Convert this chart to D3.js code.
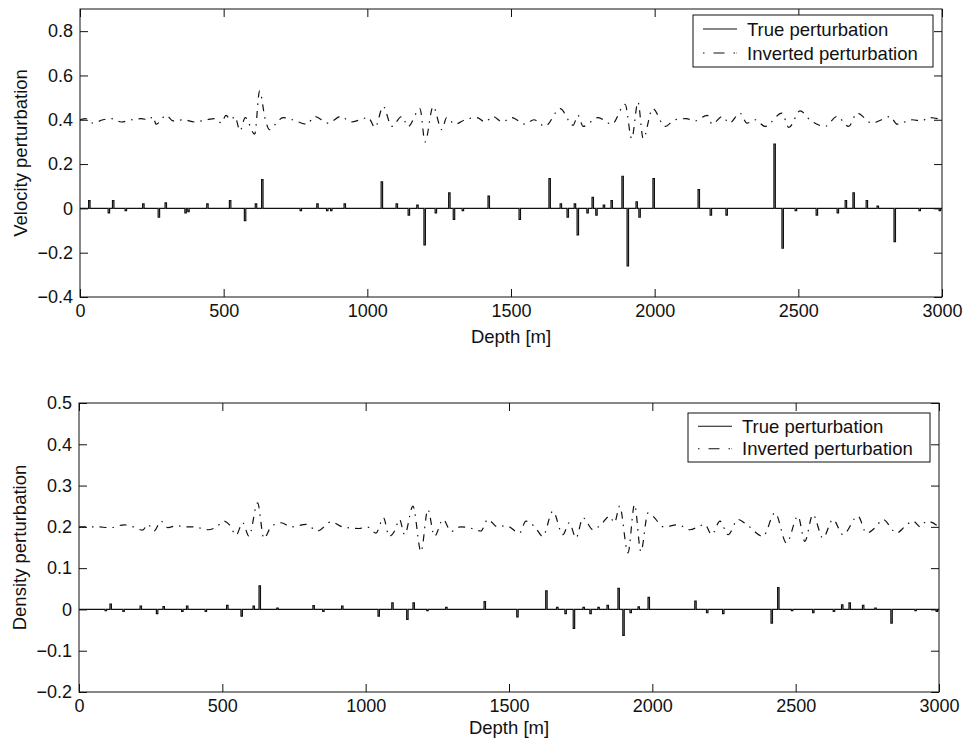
<!DOCTYPE html>
<html>
<head>
<meta charset="utf-8">
<script src="https://cdn.jsdelivr.net/npm/d3@7"></script>
<style>
  body { margin: 0; background: #fff; }
  svg { display: block; font-family: "Liberation Sans", Arial, Helvetica, sans-serif; }
</style>
</head>
<body>
<div id="chart"></div>
<script>
// x ticks shared by both panels
let depth_ticks = [0, 500, 1000, 1500, 2000, 2500, 3000]
let vel_ticks = [-0.4, -0.2, 0, 0.2, 0.4, 0.6, 0.8]
let den_ticks = [-0.2, -0.1, 0, 0.1, 0.2, 0.3, 0.4, 0.5]
let legend_labels = ["True perturbation", "Inverted perturbation"]

// true velocity perturbation: thin layers (top depth, value), zero elsewhere
let vel_layer_depth = [30, 98, 113, 157, 218, 272, 296, 365, 375, 441, 520, 572, 610, 632, 766, 824, 858, 872, 919,
    1048, 1100, 1142, 1172, 1197, 1236, 1283, 1299, 1330, 1420, 1528, 1632, 1671, 1695, 1720, 1730, 1764, 1782, 1795,
    1821, 1848, 1886, 1904, 1935, 1945, 1994, 2151, 2193, 2248, 2415, 2443, 2489, 2562, 2635, 2663, 2690, 2736, 2774,
    2833, 2920, 2990]
let vel_layer_value = [0.035, -0.02, 0.035, -0.01, 0.02, -0.04, 0.025, -0.02, -0.015, 0.02, 0.035, -0.055, 0.02, 0.13,
    -0.01, 0.02, -0.01, -0.01, 0.02, 0.12, 0.02, -0.03, 0.015, -0.165, -0.02, 0.07, -0.05, -0.01, 0.055, -0.05, 0.135,
    0.02, -0.04, 0.02, -0.12, -0.02, 0.05, -0.03, 0.015, 0.035, 0.145, -0.26, 0.03, -0.04, 0.135, 0.085, -0.03, -0.03,
    0.29, -0.18, -0.01, -0.03, -0.02, 0.035, 0.07, 0.035, 0.01, -0.15, -0.01, -0.01]

// inverted velocity perturbation (plotted shifted by 0.4)
let vel_inv_depth = [0, 20, 45, 80, 110, 144, 180, 213, 240, 254, 265, 300, 324, 360, 399, 440, 470, 492, 508, 525,
    539, 557, 575, 608, 625, 645, 660, 680, 707, 740, 790, 816, 864, 908, 943, 975, 1003, 1027, 1055, 1085, 1120, 1142,
    1183, 1201, 1229, 1259, 1276, 1305, 1340, 1381, 1410, 1437, 1470, 1502, 1549, 1580, 1618, 1671, 1716, 1733, 1751,
    1803, 1851, 1897, 1920, 1942, 1960, 1993, 2036, 2070, 2110, 2140, 2183, 2200, 2235, 2260, 2297, 2321, 2350, 2384,
    2443, 2467, 2506, 2540, 2593, 2635, 2675, 2704, 2757, 2790, 2819, 2844, 2896, 2930, 2954, 3000]
let vel_inv_value = [0.40, 0.405, 0.385, 0.40, 0.405, 0.39, 0.40, 0.405, 0.40, 0.415, 0.38, 0.42, 0.395, 0.40, 0.39,
    0.40, 0.405, 0.385, 0.42, 0.40, 0.415, 0.35, 0.41, 0.335, 0.53, 0.40, 0.355, 0.38, 0.41, 0.40, 0.38, 0.415, 0.385,
    0.415, 0.39, 0.40, 0.41, 0.365, 0.46, 0.37, 0.415, 0.37, 0.45, 0.30, 0.46, 0.355, 0.41, 0.38, 0.40, 0.41, 0.39,
    0.415, 0.39, 0.41, 0.38, 0.40, 0.37, 0.45, 0.375, 0.42, 0.37, 0.41, 0.38, 0.47, 0.315, 0.48, 0.315, 0.45, 0.37,
    0.40, 0.405, 0.395, 0.42, 0.38, 0.415, 0.385, 0.43, 0.385, 0.40, 0.37, 0.43, 0.365, 0.44, 0.40, 0.37, 0.415, 0.37,
    0.43, 0.385, 0.40, 0.415, 0.38, 0.40, 0.395, 0.41, 0.40]

// true density perturbation
let den_layer_depth = [91, 108, 153, 213, 270, 293, 358, 375, 440, 515, 565, 607, 628, 690, 816, 850, 916, 1043, 1091,
    1143, 1165, 1213, 1279, 1413, 1527, 1628, 1666, 1695, 1724, 1758, 1782, 1810, 1842, 1880, 1897, 1922, 1950, 1985,
    2148, 2189, 2245, 2414, 2437, 2485, 2559, 2631, 2660, 2686, 2733, 2776, 2832, 2916, 2990]
let den_layer_value = [-0.003, 0.013, -0.005, 0.008, -0.01, 0.007, -0.005, 0.008, -0.005, 0.01, -0.016, 0.008, 0.057,
    0.003, 0.009, -0.005, 0.008, -0.016, 0.016, -0.024, 0.016, -0.003, 0.005, 0.019, -0.018, 0.045, 0.005, -0.01,
    -0.046, 0.005, -0.01, 0.005, 0.01, 0.051, -0.063, -0.008, 0.006, 0.029, 0.02, -0.008, -0.01, -0.033, 0.053, -0.003,
    -0.008, -0.005, 0.011, 0.016, 0.01, 0.003, -0.033, -0.003, -0.005]

// inverted density perturbation (plotted shifted by 0.2)
let den_inv_depth = [0, 60, 110, 157, 190, 222, 240, 262, 286, 310, 340, 370, 400, 450, 480, 505, 525, 548, 571, 593,
    623, 645, 670, 705, 740, 792, 832, 879, 920, 977, 1005, 1036, 1062, 1082, 1101, 1118, 1136, 1165, 1193, 1217, 1240,
    1270, 1298, 1330, 1360, 1402, 1426, 1460, 1490, 1537, 1559, 1590, 1618, 1653, 1688, 1710, 1734, 1758, 1793, 1820,
    1851, 1868, 1886, 1915, 1938, 1960, 1985, 2002, 2040, 2090, 2131, 2160, 2183, 2207, 2236, 2264, 2299, 2330, 2386,
    2428, 2468, 2508, 2532, 2560, 2595, 2630, 2665, 2717, 2747, 2780, 2804, 2852, 2880, 2909, 2935, 2957, 3000]
let den_inv_value = [0.20, 0.20, 0.198, 0.205, 0.20, 0.192, 0.206, 0.19, 0.214, 0.198, 0.203, 0.20, 0.20, 0.193, 0.20,
    0.214, 0.205, 0.18, 0.21, 0.177, 0.258, 0.172, 0.20, 0.21, 0.20, 0.206, 0.19, 0.212, 0.20, 0.196, 0.20, 0.185,
    0.222, 0.177, 0.19, 0.218, 0.181, 0.25, 0.14, 0.242, 0.177, 0.218, 0.189, 0.20, 0.198, 0.19, 0.218, 0.20, 0.203,
    0.185, 0.214, 0.20, 0.177, 0.238, 0.181, 0.21, 0.173, 0.222, 0.193, 0.205, 0.226, 0.21, 0.25, 0.137, 0.254, 0.14,
    0.234, 0.226, 0.20, 0.205, 0.193, 0.20, 0.206, 0.181, 0.214, 0.181, 0.218, 0.205, 0.177, 0.234, 0.161, 0.226,
    0.165, 0.23, 0.173, 0.218, 0.181, 0.226, 0.185, 0.20, 0.218, 0.185, 0.20, 0.214, 0.20, 0.214, 0.20]

let layer_thickness = 5
let tick_font = 18
let label_font = 18.5

let svg = d3.select("#chart").append("svg")
    .attr("width", 966)
    .attr("height", 749)

// turn layer list into a step profile
function layer_profile(depths, values) {
    let pts = [[0, 0]]
    depths.forEach((d, i) => {
        pts.push([d, values[i]])
        let next = depths[i + 1]
        if (next === undefined || next > d + layer_thickness) {
            pts.push([Math.min(d + layer_thickness, 3000), 0])
        }
    })
    pts.push([3000, 0])
    return pts
}

function fmt_tick(d) {
    return Math.abs(d) < 1e-9 ? "0" : d3.format(".1f")(d)
}

function draw_panel(p) {
    let x = d3.scaleLinear().domain([0, 3000]).range([p.left, p.right])
    let y = d3.scaleLinear().domain(p.y_domain).range([p.bottom, p.top])
    let g = svg.append("g")

    let inner = 8
    let set_style = (sel) => {
        sel.select(".domain").remove()
        sel.selectAll("line").attr("stroke", "#111").attr("stroke-width", 1)
        sel.selectAll("text").attr("fill", "#111").style("font-size", tick_font + "px")
            .style("font-family", "'Liberation Sans', Arial, sans-serif")
    }

    g.append("g").attr("transform", `translate(0,${p.bottom})`)
        .call(d3.axisBottom(x).tickValues(depth_ticks).tickSizeInner(-inner).tickSizeOuter(0).tickPadding(7)
            .tickFormat(d3.format("d")))
        .call(set_style)
    g.append("g").attr("transform", `translate(0,${p.top})`)
        .call(d3.axisTop(x).tickValues(depth_ticks).tickSizeInner(-inner).tickSizeOuter(0).tickFormat(""))
        .call(set_style)
    g.append("g").attr("transform", `translate(${p.left},0)`)
        .call(d3.axisLeft(y).tickValues(p.y_ticks).tickSizeInner(-inner).tickSizeOuter(0).tickPadding(7).tickFormat(fmt_tick))
        .call(set_style)
    g.append("g").attr("transform", `translate(${p.right},0)`)
        .call(d3.axisRight(y).tickValues(p.y_ticks).tickSizeInner(-inner).tickSizeOuter(0).tickFormat(""))
        .call(set_style)

    g.append("rect")
        .attr("x", p.left).attr("y", p.top)
        .attr("width", p.right - p.left).attr("height", p.bottom - p.top)
        .attr("fill", "none").attr("stroke", "#111").attr("stroke-width", 1)

    let true_line = d3.line().x(d => x(d[0])).y(d => y(d[1])).curve(d3.curveStepAfter)
    g.append("path")
        .datum(layer_profile(p.layer_depth, p.layer_value))
        .attr("d", true_line)
        .attr("fill", "none").attr("stroke", "#111").attr("stroke-width", 1.2)

    let inv_pts = p.inv_depth.map((d, i) => [d, p.inv_value[i]])
    let inv_line = d3.line().x(d => x(d[0])).y(d => y(d[1])).curve(d3.curveMonotoneX)
    g.append("path")
        .datum(inv_pts)
        .attr("d", inv_line)
        .attr("fill", "none").attr("stroke", "#111").attr("stroke-width", 1.2)
        .attr("stroke-dasharray", "7,6,1.5,6")

    g.append("text")
        .attr("x", (p.left + p.right) / 2).attr("y", p.xlabel_y)
        .attr("text-anchor", "middle")
        .style("font-size", label_font + "px").attr("fill", "#111")
        .text("Depth [m]")

    g.append("text")
        .attr("transform", `translate(${p.left - 53},${(p.top + p.bottom) / 2}) rotate(-90)`)
        .attr("text-anchor", "middle")
        .style("font-size", label_font + "px").attr("fill", "#111")
        .text(p.ylabel)

    // legend
    let lg = g.append("g")
    lg.append("rect")
        .attr("x", p.legend[0]).attr("y", p.legend[1])
        .attr("width", p.legend[2]).attr("height", p.legend[3])
        .attr("fill", "#fff").attr("stroke", "#111").attr("stroke-width", 1)
    let row_h = p.legend[3] / 2
    legend_labels.forEach((lab, i) => {
        let cy = p.legend[1] + row_h * (i + 0.5) + (i === 0 ? 1 : -1)
        lg.append("line")
            .attr("x1", p.legend[0] + 10).attr("x2", p.legend[0] + 44)
            .attr("y1", cy).attr("y2", cy)
            .attr("stroke", "#111").attr("stroke-width", 1.1)
            .attr("stroke-dasharray", i === 0 ? null : "1.5,9,11,9,1.5")
        lg.append("text")
            .attr("x", p.legend[0] + 54).attr("y", cy).attr("dy", "0.36em")
            .style("font-size", label_font + "px").attr("fill", "#111")
            .text(lab)
    })
}

draw_panel({
    left: 80, right: 942, top: 9, bottom: 297,
    y_domain: [-0.4, 0.9], y_ticks: vel_ticks,
    layer_depth: vel_layer_depth, layer_value: vel_layer_value,
    inv_depth: vel_inv_depth, inv_value: vel_inv_value,
    ylabel: "Velocity perturbation", xlabel_y: 343,
    legend: [693, 15, 240, 52]
})

draw_panel({
    left: 79, right: 939, top: 403, bottom: 692,
    y_domain: [-0.2, 0.5], y_ticks: den_ticks,
    layer_depth: den_layer_depth, layer_value: den_layer_value,
    inv_depth: den_inv_depth, inv_value: den_inv_value,
    ylabel: "Density perturbation", xlabel_y: 734,
    legend: [688, 413, 242, 49]
})
</script>
</body>
</html>
